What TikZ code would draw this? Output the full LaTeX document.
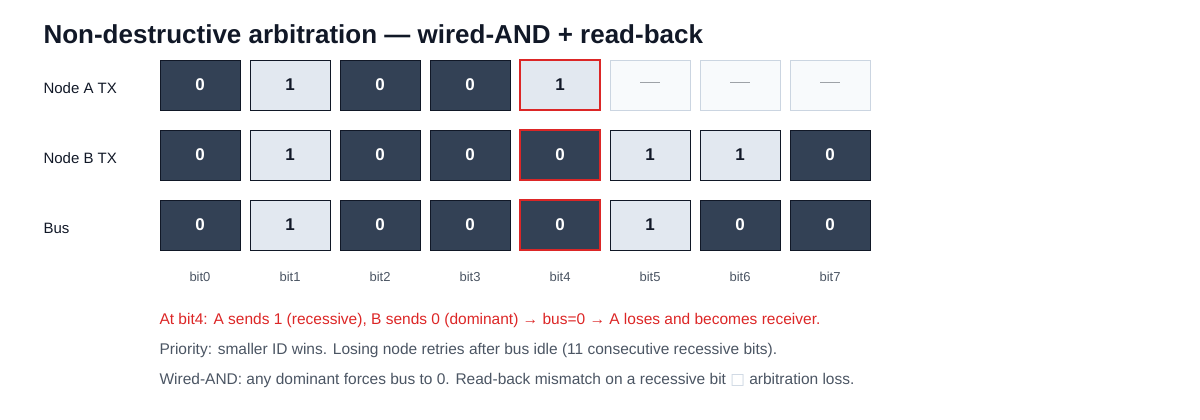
\documentclass[tikz,border=0pt]{standalone}
\usepackage{fontspec}
\setmainfont{Liberation Sans}
\newfontfamily\dejavu{DejaVu Sans}
\begin{document}
\definecolor{dk}{HTML}{334155}
\definecolor{lt}{HTML}{E2E8F0}
\definecolor{em}{HTML}{F8FAFC}
\definecolor{emb}{HTML}{CBD5E1}
\definecolor{red}{HTML}{DC2626}
\definecolor{gr}{HTML}{4B5563}
\definecolor{ti}{HTML}{111827}
\begin{tikzpicture}[x=1pt,y=-1pt,
  cell/.style={minimum width=80pt,minimum height=50pt,inner sep=0pt,draw=ti,line width=0.8pt,font=\fontsize{17}{20}\selectfont\bfseries},
  D/.style={cell,fill=dk,text=white},
  R/.style={cell,fill=lt,text=ti},
  E/.style={cell,fill=em,draw=emb,text=emb!50!gray},
  hl/.style={draw=red,line width=2.5pt},
  lab/.style={anchor=west,font=\fontsize{15}{18}\selectfont,text=ti},
  bl/.style={font=\fontsize{13}{15}\selectfont,text=gr},
  ft/.style={anchor=west,font=\fontsize{15.5}{18}\selectfont,text=gr}]
\useasboundingbox (0,0) rectangle (1200,420);
\node[anchor=west,font=\fontsize{26}{30}\selectfont\bfseries,text=ti] (title) at (40,34) {Non-destructive arbitration — wired-AND + read-back};
\node[lab] (la) at (40,88) {Node A TX};
\node[lab] (lb) at (40,158) {Node B TX};
\node[lab] (lc) at (40,228) {Bus};
% row A
\foreach \i/\s/\t in {0/D/0,1/R/1,2/D/0,3/D/0}{\node[\s] (a\i) at (200+90*\i,85) {\t};}
\node[R,hl] (a4) at (560,85) {1};
\foreach \i in {5,6,7}{\node[E] (a\i) at (200+90*\i,85) {\textcolor{emb!40!gray}{\rule[5pt]{20pt}{1.5pt}}};}
% row B
\foreach \i/\s/\t in {0/D/0,1/R/1,2/D/0,3/D/0,5/R/1,6/R/1,7/D/0}{\node[\s] (b\i) at (200+90*\i,155) {\t};}
\node[D,hl] (b4) at (560,155) {0};
% bus
\foreach \i/\s/\t in {0/D/0,1/R/1,2/D/0,3/D/0,5/R/1,6/D/0,7/D/0}{\node[\s] (c\i) at (200+90*\i,225) {\t};}
\node[D,hl] (c4) at (560,225) {0};
\foreach \i in {0,...,7}{\node[bl] (bit\i) at (200+90*\i,277) {bit\i};}
\node[ft,text=red] (f1) at (156,320) {At bit4: A sends 1 (recessive), B sends 0 (dominant) → bus=0 → A loses and becomes receiver.};
\node[ft] (f2) at (156,350) {Priority: smaller ID wins. Losing node retries after bus idle (11 consecutive recessive bits).};
\node[ft] (f3) at (156,380) {Wired-AND: any dominant forces bus to 0. Read-back mismatch on a recessive bit {\dejavu\textcolor{emb}{□}} arbitration loss.};
\end{tikzpicture}
\end{document}
